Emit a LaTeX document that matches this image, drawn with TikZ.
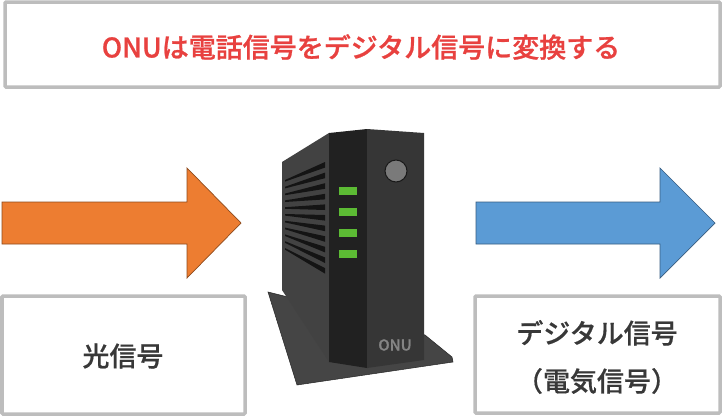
\documentclass[tikz,border=0pt]{standalone}
\usepackage{fontspec}
\newfontfamily\cjkm[FakeBold=0.5]{Noto Sans CJK JP Medium}
\newfontfamily\cjkt[FakeBold=0.9]{Noto Sans CJK JP Medium}
\definecolor{boxgray}{HTML}{BDBDBD}
\definecolor{titlered}{HTML}{E8413F}
\definecolor{orangeA}{HTML}{ED7D31}
\definecolor{blueA}{HTML}{5B9BD5}
\definecolor{ledgreen}{HTML}{5CBB34}
\tikzset{
 x=1pt,y=-1pt,
 framebox/.style={draw=boxgray,line width=3.5pt,fill=white,rounded corners=1pt},
 ledbar/.style={fill=ledgreen},
 labeltext/.style={font=\cjkm\fontsize{27}{48}\selectfont,text=black!78,align=center,inner sep=0pt},
}
\begin{document}
\begin{tikzpicture}
\useasboundingbox (0,0) rectangle (723,416);
\fill[white] (0,0) rectangle (723,416);
% boxes
\draw[framebox] (5,2) rectangle (720,87);
\draw[framebox] (2,296) rectangle (245,414);
\draw[framebox] (475,296) rectangle (720,413);
\node[font=\cjkt\fontsize{27}{30}\selectfont,text=titlered,inner sep=0pt] (title) at (361,47) {ONUは電話信号をデジタル信号に変換する};
\node[labeltext] (light) at (123,356) {光信号};
\node[labeltext] (digital) at (597,357) {デジタル信号\\（電気信号）};
% arrows
\draw[draw=orangeA!60!black,line width=.7pt,fill=orangeA] (2,202)--(187,202)--(187,168)--(241,223)--(187,278)--(187,244)--(2,244)--cycle;
\draw[draw=blueA!60!black,line width=.7pt,fill=blueA] (476,202)--(660,202)--(660,168)--(715,223)--(660,278)--(660,244)--(476,244)--cycle;
% ONU device
\fill[black!73,draw=black!85,line width=.5pt] (268,292)--(297,385)--(453,362)--(452,357)--(425,335)--(300,300)--cycle;
\fill[black!74] (282,162)--(329,133)--(329,362)--(282,290)--cycle;
\fill[black!87] (329,133)--(367,129)--(367,368)--(329,362)--cycle;
\fill[black!79] (367,129)--(424,133)--(424,360)--(367,368)--cycle;
\foreach \i in {0,...,10}{
  \pgfmathsetmacro{\la}{180+6.8*\i}
  \pgfmathsetmacro{\lb}{\la+1.6}
  \pgfmathsetmacro{\ra}{162+10.6*\i}
  \pgfmathsetmacro{\rb}{\ra+5.6}
  \fill[black!92] (285,\la)--(325,\ra)--(325,\rb)--(285,\lb)--cycle;
}
\foreach \y in {187,208,229,250}{\fill[ledbar] (339,\y) rectangle (357,\y+8);}
\fill[black!52,draw=black!90,line width=1pt] (396,171) circle (11);
\node[font=\cjkt\fontsize{15}{15}\selectfont,text=black!48,inner sep=0pt] (onu) at (395,345) {ONU};
\end{tikzpicture}
\end{document}
